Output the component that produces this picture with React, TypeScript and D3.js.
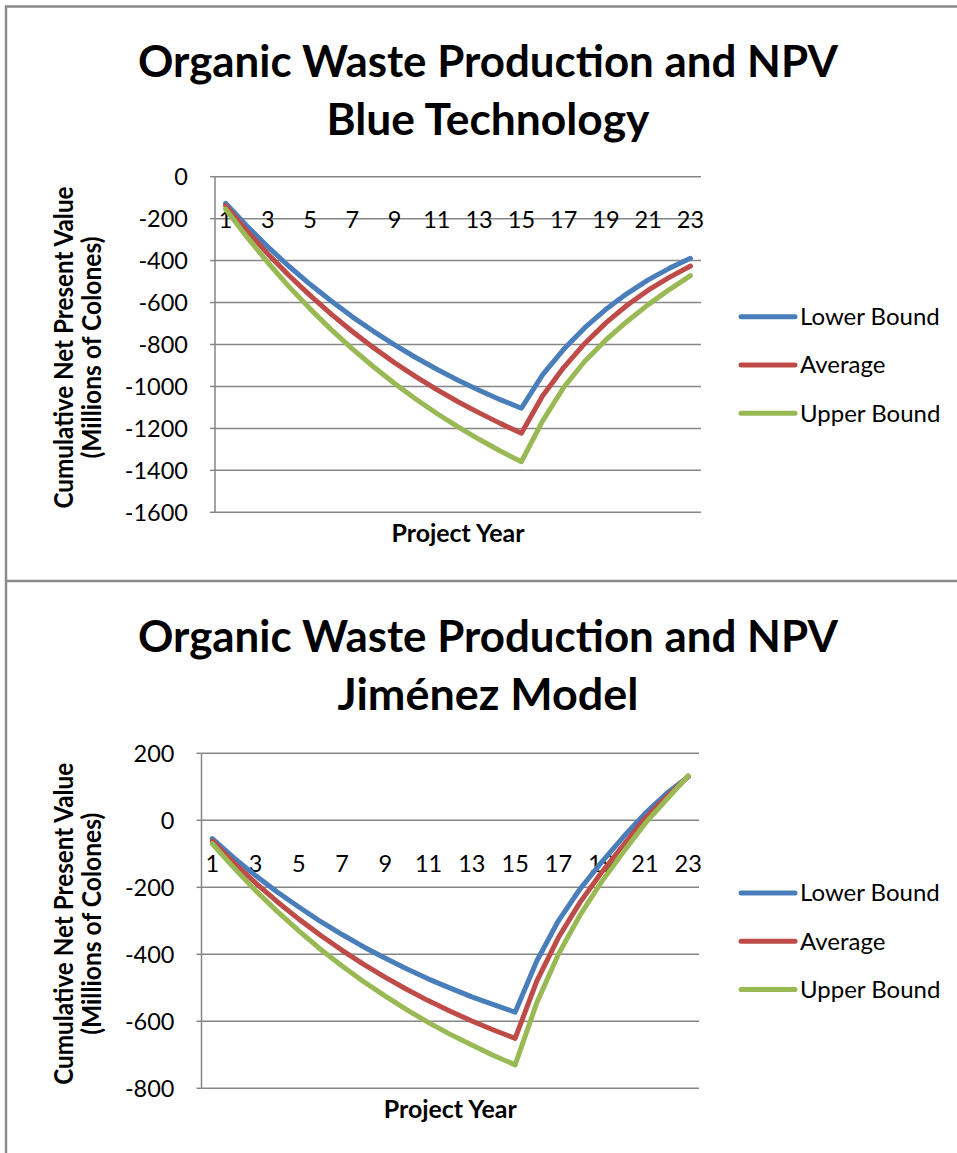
import React from "react";
import * as d3 from "d3";

// ---------- data ----------
const years = [1, 2, 3, 4, 5, 6, 7, 8, 9, 10, 11, 12, 13, 14, 15, 16, 17, 18, 19, 20, 21, 22, 23];
const yearLabels = [1, 3, 5, 7, 9, 11, 13, 15, 17, 19, 21, 23];
const seriesNames = ["Lower Bound", "Average", "Upper Bound"];
const seriesColors = ["#4A7EBB", "#BE4B48", "#98B954"];

const blueLower = [-127, -234, -334, -427, -513, -593, -668, -737, -802, -862, -918, -970, -1018, -1063, -1104, -945, -823, -720, -632, -557, -492, -437, -389];
const blueAverage = [-138, -257, -368, -471, -566, -655, -738, -815, -887, -953, -1015, -1073, -1126, -1176, -1223, -1046, -910, -795, -697, -613, -541, -480, -426];
const blueUpper = [-154, -286, -409, -524, -630, -729, -821, -906, -986, -1060, -1129, -1193, -1252, -1308, -1359, -1165, -1005, -880, -778, -690, -610, -538, -472];
const blueTicks = [0, -200, -400, -600, -800, -1000, -1200, -1400, -1600];

const jimLower = [-55, -112, -165, -214, -259, -302, -341, -378, -412, -444, -474, -501, -527, -550, -573, -420, -300, -205, -125, -50, 20, 80, 130];
const jimAverage = [-62, -127, -187, -243, -295, -343, -388, -430, -469, -505, -539, -570, -599, -626, -651, -480, -350, -245, -155, -75, 5, 70, 131];
const jimUpper = [-70, -142, -210, -272, -330, -385, -435, -482, -525, -566, -604, -639, -671, -702, -730, -545, -400, -283, -183, -95, -10, 62, 133];
const jimTicks = [200, 0, -200, -400, -600, -800];

const titleLine1 = "Organic Waste Production and NPV";
const yTitle1 = "Cumulative Net Present Value";
const yTitle2 = "(Millions of Colones)";
const xTitle = "Project Year";

// ---------- styling ----------
const FONT = "Lato, 'Open Sans', sans-serif";
const GRID = "#868686";

type PanelProps = {
  subtitle: string;
  subtitleWidth: number;
  series: number[][];
  ticks: number[];
  plotLeft: number;
  plotRight: number;
  plotTop: number;
  plotBottom: number;
  titleBase: number;
  legendY: number;
};

function Panel(p: PanelProps) {
  const x = d3.scalePoint<number>().domain(years).range([p.plotLeft, p.plotRight]).padding(0.5);
  const yMax = d3.max(p.ticks) as number;
  const yMin = d3.min(p.ticks) as number;
  const y = d3.scaleLinear().domain([yMin, yMax]).range([p.plotBottom, p.plotTop]);
  const line = d3
    .line<number>()
    .x((_, i) => x(years[i]) as number)
    .y((d) => y(d));
  const cx = (p.plotLeft + p.plotRight) / 2;
  const cy = (p.plotTop + p.plotBottom) / 2 + 3;
  return (
    <g>
      <text x={488} y={p.titleBase} textAnchor="middle" fontFamily={FONT} fontWeight="bold" fontSize={43} textLength={700} lengthAdjust="spacingAndGlyphs">
        {titleLine1}
      </text>
      <text x={488} y={p.titleBase + 58} textAnchor="middle" fontFamily={FONT} fontWeight="bold" fontSize={43} textLength={p.subtitleWidth} lengthAdjust="spacingAndGlyphs">
        {p.subtitle}
      </text>
      {/* gridlines */}
      {p.ticks.map((t) => (
        <line key={"g" + t} x1={p.plotLeft} x2={p.plotRight} y1={y(t)} y2={y(t)} stroke={GRID} strokeWidth={1.5} />
      ))}
      {/* y axis */}
      <line x1={p.plotLeft} x2={p.plotLeft} y1={p.plotTop} y2={p.plotBottom} stroke={GRID} strokeWidth={1.5} />
      {p.ticks.map((t) => (
        <line key={"t" + t} x1={p.plotLeft - 5} x2={p.plotLeft} y1={y(t)} y2={y(t)} stroke={GRID} strokeWidth={1.5} />
      ))}
      {p.ticks.map((t) => (
        <text key={"l" + t} x={p.plotLeft - 27} y={y(t)} dy="0.35em" textAnchor="end" fontFamily={FONT} fontSize={23.5} fill="#000">
          {t}
        </text>
      ))}
      {/* x labels (axis crosses at 0) */}
      {yearLabels.map((yr) => (
        <text key={"x" + yr} x={x(yr)} y={y(0) + 43} dy="0.35em" textAnchor="middle" fontFamily={FONT} fontSize={23.5} fill="#000">
          {yr}
        </text>
      ))}
      {/* series */}
      {p.series.map((s, i) => (
        <path key={"s" + i} d={line(s) || ""} fill="none" stroke={seriesColors[i]} strokeWidth={5} strokeLinejoin="round" strokeLinecap="round" />
      ))}
      {/* axis titles */}
      <text x={cx} y={p.plotBottom + 30} textAnchor="middle" fontFamily={FONT} fontWeight="bold" fontSize={25} textLength={133} lengthAdjust="spacingAndGlyphs">
        {xTitle}
      </text>
      <text transform={`translate(73,${cy}) rotate(-90)`} textAnchor="middle" fontFamily={FONT} fontWeight="bold" fontSize={26} textLength={322} lengthAdjust="spacingAndGlyphs">
        {yTitle1}
      </text>
      <text transform={`translate(101,${cy}) rotate(-90)`} textAnchor="middle" fontFamily={FONT} fontWeight="bold" fontSize={26} textLength={222} lengthAdjust="spacingAndGlyphs">
        {yTitle2}
      </text>
      {/* legend */}
      {seriesNames.map((n, i) => (
        <g key={"lg" + i}>
          <line x1={741} x2={795} y1={p.legendY + i * 48.3} y2={p.legendY + i * 48.3} stroke={seriesColors[i]} strokeWidth={5} strokeLinecap="round" />
          <text x={800} y={p.legendY + i * 48.3} dy="0.35em" fontFamily={FONT} fontSize={24} fill="#000">
            {n}
          </text>
        </g>
      ))}
    </g>
  );
}

export default function App() {
  return (
    <svg width={957} height={1153} style={{ position: "absolute", left: 0, top: 0, background: "#fff" }}>
      <rect x={0} y={0} width={957} height={1153} fill="#fff" />
      <line x1={5} x2={957} y1={6.5} y2={6.5} stroke="#8a8a8a" strokeWidth={2.5} />
      <line x1={6} x2={6} y1={6} y2={1153} stroke="#8a8a8a" strokeWidth={2.5} />
      <line x1={5} x2={957} y1={581} y2={581} stroke="#8a8a8a" strokeWidth={2.5} />
      <Panel
        subtitle="Blue Technology"
        subtitleWidth={323}
        series={[blueLower, blueAverage, blueUpper]}
        ticks={blueTicks}
        plotLeft={215}
        plotRight={701}
        plotTop={176.7}
        plotBottom={512.3}
        titleBase={77}
        legendY={316.7}
      />
      <Panel
        subtitle="Jiménez Model"
        subtitleWidth={301}
        series={[jimLower, jimAverage, jimUpper]}
        ticks={jimTicks}
        plotLeft={201.5}
        plotRight={699}
        plotTop={753.3}
        plotBottom={1088.3}
        titleBase={652}
        legendY={893}
      />
    </svg>
  );
}
